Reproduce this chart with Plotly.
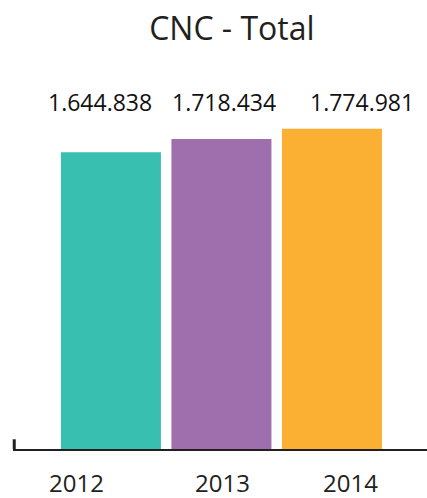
import plotly.graph_objects as go

# data
years = ["2012", "2013", "2014"]
totals = [1644838, 1718434, 1774981]
value_labels = ["1.644.838", "1.718.434", "1.774.981"]
bar_colors = ["#38bfb0", "#9f6fad", "#fbb034"]

TEXT = "#231f20"

fig = go.Figure(
    go.Bar(
        x=years,
        y=totals,
        marker_color=bar_colors,
        marker_line_width=0,
        hoverinfo="x+y",
    )
)

# labels are a bit off-centre in the original, nudge them by hand
label_shift = [-11, 3, 30]
year_shift = [-34, 1, 19]

# annotations on a category axis take the category index
for i, (lab, dx) in enumerate(zip(value_labels, label_shift)):
    fig.add_annotation(
        x=i, y=1, xref="x", yref="paper",
        text=lab, showarrow=False,
        xanchor="center", yanchor="middle",
        xshift=dx, yshift=-42,
        font=dict(family="Open Sans", size=23, color="#111111"),
    )

for i, (yr, dx) in enumerate(zip(years, year_shift)):
    fig.add_annotation(
        x=i, y=0, xref="x", yref="paper",
        text=yr, showarrow=False,
        xanchor="center", yanchor="middle",
        xshift=dx, yshift=-33,
        font=dict(family="Open Sans", size=24, color=TEXT),
    )

# little tick at the left end of the baseline
fig.add_shape(
    type="line", xref="paper", yref="paper",
    x0=0.003, x1=0.003, y0=0, y1=0.025,
    line=dict(color=TEXT, width=3),
)

fig.update_layout(
    width=427,
    height=498,
    margin=dict(l=13, r=0, t=60, b=49),
    paper_bgcolor="white",
    plot_bgcolor="white",
    showlegend=False,
    bargap=0.095,
    title=dict(
        text="CNC - Total",
        x=0.543, xanchor="center",
        y=0.943, yanchor="middle",
        font=dict(family="Open Sans", size=32, color=TEXT),
    ),
)
fig.update_xaxes(
    type="category",
    range=[-0.886, 2.86],
    showticklabels=False,
    showgrid=False,
    showline=True,
    linecolor=TEXT,
    linewidth=2,
    zeroline=False,
)
fig.update_yaxes(
    range=[0, 2156000],
    visible=False,
)

# drop the default 8px page margin so the figure sits at the window corner
fig.write_html(
    "out.html",
    config={"displayModeBar": False},
    post_script="document.body.style.margin='0';",
)
